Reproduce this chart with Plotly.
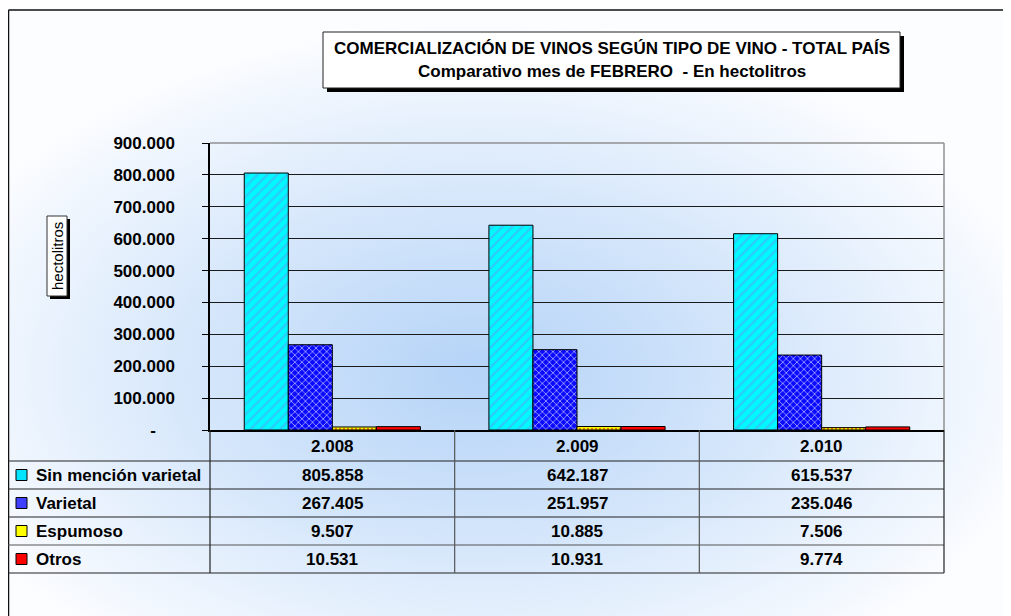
import base64
import plotly.graph_objects as go

# ---------------- data ----------------
years = ["2.008", "2.009", "2.010"]
series_names = ["Sin mención varietal", "Varietal", "Espumoso", "Otros"]
sin_mencion = [805858, 642187, 615537]
varietal = [267405, 251957, 235046]
espumoso = [9507, 10885, 7506]
otros = [10531, 10931, 9774]
y_ticks = [0, 100000, 200000, 300000, 400000, 500000, 600000, 700000, 800000, 900000]
title_line1 = "COMERCIALIZACIÓN DE VINOS SEGÚN TIPO DE VINO - TOTAL PAÍS"
title_line2 = "Comparativo mes de FEBRERO  - En hectolitros"
y_title = "hectolitros"

series_values = [sin_mencion, varietal, espumoso, otros]

# ---------------- geometry (page pixels; the page body has an 8px margin) ----------------
OFF = 8
PAGE_W, PAGE_H = 1011, 616
W, H = PAGE_W - OFF, PAGE_H - OFF
PL, PR, PT, PB = 210, 944, 143, 430          # plot area in page pixels
L, R, T, B = PL - OFF, W - (PR - OFF), PT - OFF, H - (PB - OFF)
PW = W - L - R
PH = H - T - B


def px(x):
    return (x - OFF - L) / PW


def py(y):
    return (H - B - (y - OFF)) / PH


def fmt(v):
    return f"{v:,}".replace(",", ".")


FONT = "Liberation Sans, Arial, sans-serif"
FS = 17

styles = [
    dict(bg="#00F8FF", fg="#30C8F8", shape="/", size=7, sol=0.3, swatch="#00E5FF"),
    dict(bg="#0A0AFF", fg="#A8A8FF", shape="x", size=5, sol=0.3, swatch="#3F3FFF"),
    dict(bg="#FFFF00", fg="#E08000", shape=".", size=4, sol=0.3, swatch="#FFFF00"),
    dict(bg="#FF0000", fg="#FF0000", shape="", size=6, sol=0.3, swatch="#FF0000"),
]

fig = go.Figure()
for name, vals, st in zip(series_names, series_values, styles):
    fig.add_trace(go.Bar(
        x=years, y=vals, name=name,
        marker=dict(
            color=st["bg"],
            line=dict(color="#000000", width=1),
            pattern=dict(shape=st["shape"], fgcolor=st["fg"], bgcolor=st["bg"],
                         size=st["size"], solidity=st["sol"], fillmode="replace"),
        ),
        showlegend=False,
    ))

# background gradient image
svg = (
    '<svg xmlns="http://www.w3.org/2000/svg" width="1011" height="616">'
    '<defs><radialGradient id="g" cx="0.47" cy="0.6" r="0.58">'
    '<stop offset="0" stop-color="#B4D3F7"/>'
    '<stop offset="0.5" stop-color="#D6E7FB"/>'
    '<stop offset="1" stop-color="#FCFDFF"/>'
    '</radialGradient></defs>'
    '<rect width="1011" height="616" fill="url(#g)"/></svg>'
)
src = "data:image/svg+xml;base64," + base64.b64encode(svg.encode()).decode()

shapes = []
annotations = []

# outer frame
shapes.append(dict(type="line", xref="paper", yref="paper", x0=px(8.5), x1=px(PAGE_W + 5),
                   y0=py(10), y1=py(10), line=dict(color="#111111", width=1.5)))
shapes.append(dict(type="line", xref="paper", yref="paper", x0=px(8.5), x1=px(8.5),
                   y0=py(10), y1=py(PAGE_H + 5), line=dict(color="#111111", width=1.5)))

# plot area top & right border
shapes.append(dict(type="line", xref="paper", yref="paper", x0=0, x1=1, y0=1, y1=1,
                   line=dict(color="#909090", width=1.5)))
shapes.append(dict(type="line", xref="paper", yref="paper", x0=1, x1=1, y0=0, y1=1,
                   line=dict(color="#909090", width=1.5)))

# title box with shadow
shapes.append(dict(type="rect", xref="paper", yref="paper", x0=px(327), x1=px(904),
                   y0=py(36), y1=py(92), fillcolor="#000000", line=dict(width=0)))
shapes.append(dict(type="rect", xref="paper", yref="paper", x0=px(323), x1=px(900),
                   y0=py(32), y1=py(88), fillcolor="#FFFFFF", line=dict(color="#222222", width=1)))
annotations.append(dict(text="<b>" + title_line1 + "</b>", xref="paper", yref="paper",
                        x=px(611.5), y=py(48), xanchor="center", yanchor="middle", showarrow=False,
                        font=dict(family=FONT, size=FS, color="#000000")))
annotations.append(dict(text="<b>" + title_line2 + "</b>", xref="paper", yref="paper",
                        x=px(611.5), y=py(71), xanchor="center", yanchor="middle", showarrow=False,
                        font=dict(family=FONT, size=FS, color="#000000")))

# y-axis title box with shadow
shapes.append(dict(type="rect", xref="paper", yref="paper", x0=px(50), x1=px(70),
                   y0=py(219), y1=py(299), fillcolor="#000000", line=dict(width=0)))
shapes.append(dict(type="rect", xref="paper", yref="paper", x0=px(47), x1=px(67),
                   y0=py(216), y1=py(296), fillcolor="#FFFFFF", line=dict(color="#333333", width=1)))
annotations.append(dict(text=y_title, xref="paper", yref="paper", x=px(57), y=py(256),
                        xanchor="center", yanchor="middle", textangle=-90, showarrow=False,
                        font=dict(family=FONT, size=15, color="#000000")))

# data table
row_lines = [461, 489, 517, 545, 573]
for i, yl in enumerate(row_lines):
    shapes.append(dict(type="line", xref="paper", yref="paper", x0=px(8), x1=1,
                       y0=py(yl), y1=py(yl),
                       line=dict(color="#222222" if i != 3 else "#555555", width=1.2)))
ncat = len(years)
for k in range(ncat + 1):
    shapes.append(dict(type="line", xref="paper", yref="paper", x0=k / ncat, x1=k / ncat,
                       y0=0, y1=py(573),
                       line=dict(color="#555555" if 0 < k < ncat else "#222222", width=1.2)))

# header row (category index positions on the category x axis)
for ci, yr in enumerate(years):
    annotations.append(dict(text="<b>" + yr + "</b>", xref="x", yref="paper", x=ci, y=py(446),
                            xanchor="center", yanchor="middle", showarrow=False,
                            font=dict(family=FONT, size=FS, color="#000000")))

row_centers = [475, 503, 531, 559]
for name, vals, st, rc in zip(series_names, series_values, styles, row_centers):
    shapes.append(dict(type="rect", xref="paper", yref="paper", x0=px(16), x1=px(27),
                       y0=py(rc + 5.5), y1=py(rc - 5.5), fillcolor=st["swatch"],
                       line=dict(color="#000000", width=1)))
    annotations.append(dict(text="<b>" + name + "</b>", xref="paper", yref="paper", x=px(34), y=py(rc),
                            xanchor="left", yanchor="middle", showarrow=False,
                            font=dict(family=FONT, size=FS, color="#000000")))
    for ci, v in enumerate(vals):
        annotations.append(dict(text="<b>" + fmt(v) + "</b>", xref="x", yref="paper", x=ci, y=py(rc),
                                xanchor="center", yanchor="middle", showarrow=False,
                                font=dict(family=FONT, size=FS, color="#000000")))

tick_text = ["<b>" + (fmt(v) if v else "-    ") + "</b>" for v in y_ticks]

fig.update_layout(
    width=W, height=H,
    margin=dict(l=L, r=R, t=T, b=B, autoexpand=False),
    paper_bgcolor="#FFFFFF",
    plot_bgcolor="#FFFFFF",
    barmode="group",
    bargap=0.28,
    bargroupgap=0,
    font=dict(family=FONT, size=FS, color="#000000"),
    images=[dict(source=src, xref="paper", yref="paper", x=px(OFF), y=py(OFF),
                 sizex=W / PW, sizey=H / PH, xanchor="left", yanchor="top",
                 sizing="stretch", layer="below")],
    shapes=shapes,
    annotations=annotations,
    xaxis=dict(type="category", showticklabels=False, ticks="", showline=True,
               linecolor="#000000", linewidth=1.5, showgrid=False, fixedrange=True),
    yaxis=dict(range=[0, 900000], tickvals=y_ticks, ticktext=tick_text,
               ticks="outside", ticklen=6, tickcolor="#000000", tickwidth=1,
               ticklabelstandoff=24,
               showline=True, linecolor="#000000", linewidth=1.5,
               showgrid=True, gridcolor="#1A1A1A", gridwidth=1, zeroline=False,
               tickfont=dict(family=FONT, size=FS, color="#000000"), fixedrange=True),
)

fig.write_html("out.html")
